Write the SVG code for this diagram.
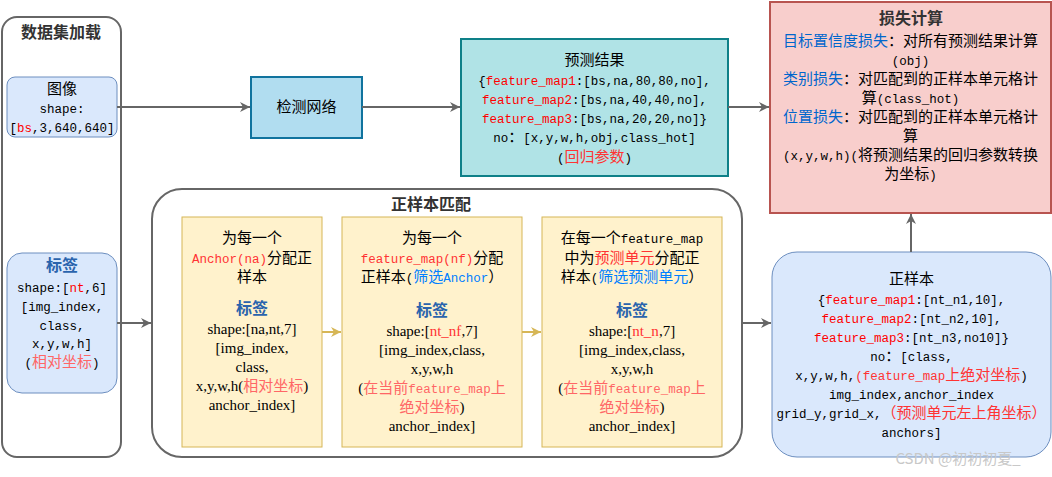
<svg xmlns="http://www.w3.org/2000/svg" width="1052" height="477" viewBox="0 0 1052 477">
<defs>
<style>
.t{font-family:"Liberation Mono","Noto Sans CJK SC",monospace;font-size:12.5px;text-anchor:middle;fill:#000}
.s{font-family:"Liberation Serif","Noto Sans CJK SC",serif;font-size:15px;text-anchor:middle;fill:#000}
.c{font-family:"Noto Sans CJK SC",sans-serif;font-size:15px}
.m{font-family:"Liberation Mono",monospace;font-size:12.5px}
.h{font-family:"Noto Sans CJK SC",sans-serif;font-size:16px;font-weight:bold;fill:#333;text-anchor:middle}
.lb{font-family:"Noto Sans CJK SC",sans-serif;font-size:16px;font-weight:bold;fill:#2a64ad;text-anchor:middle}
.r{fill:#ff0000}.r2{fill:#ff3333}.p{fill:#ff6666}.b{fill:#0066cc}.b2{fill:#007fff}
.cont{fill:#fff;stroke:#666;stroke-width:2}
.blue{fill:#dae8fc;stroke:#6c8ebf;stroke-width:1}
.yel{fill:#fff2cc;stroke:#d6b656;stroke-width:1}
.ln{fill:none;stroke:#666;stroke-width:2}
.lny{fill:none;stroke:#d6b656;stroke-width:2}
</style>
<marker id="ag" markerUnits="userSpaceOnUse" markerWidth="12" markerHeight="12" refX="10" refY="5" orient="auto"><path d="M0,0 L10,5 L0,10 L3,5 Z" fill="#666"/></marker>
<marker id="ay" markerUnits="userSpaceOnUse" markerWidth="12" markerHeight="12" refX="10" refY="5" orient="auto"><path d="M0,0 L10,5 L0,10 L3,5 Z" fill="#d6b656"/></marker>
</defs>
<rect width="1052" height="477" fill="#fff"/>

<g id="dataset">
<rect class="cont" x="2" y="17" width="119" height="440" rx="15"/>
<text class="h" x="61" y="38">数据集加载</text>
</g>

<g id="image">
<rect class="blue" x="7" y="77" width="110" height="60" rx="8"/>
<text class="t" x="62" y="94"><tspan class="c">图像</tspan></text>
<text class="t" x="62" y="113">shape:</text>
<text class="t" x="62" y="132">[<tspan class="r">bs</tspan>,3,640,640]</text>
</g>

<g id="label">
<rect class="blue" x="7" y="253" width="110" height="140" rx="15"/>
<text class="lb" x="62" y="271">标签</text>
<text class="t" x="62" y="292">shape:[<tspan class="r">nt</tspan>,6]</text>
<text class="t" x="62" y="311">[img_index,</text>
<text class="t" x="62" y="330">class,</text>
<text class="t" x="62" y="348">x,y,w,h]</text>
<text class="t" x="62" y="367">(<tspan class="c p">相对坐标</tspan>)</text>
</g>

<g id="network">
<rect x="251" y="77" width="111" height="61" fill="#b1ddf0" stroke="#10739e" stroke-width="2"/>
<text class="t" x="306.5" y="112"><tspan class="c">检测网络</tspan></text>
</g>

<g id="prediction">
<rect x="461" y="39" width="267" height="137" fill="#b0e3e6" stroke="#0e8088" stroke-width="2"/>
<text class="t" x="594.5" y="65"><tspan class="c">预测结果</tspan></text>
<text class="t" x="594.5" y="85">{<tspan class="r">feature_map1</tspan>:[bs,na,80,80,no],</text>
<text class="t" x="594.5" y="104"><tspan class="r">feature_map2</tspan>:[bs,na,40,40,no],</text>
<text class="t" x="594.5" y="123"><tspan class="r">feature_map3</tspan>:[bs,na,20,20,no]}</text>
<text class="t" x="594.5" y="142">no<tspan class="c">：</tspan>[x,y,w,h,obj,class_hot]</text>
<text class="t" x="594.5" y="162">(<tspan class="c r2">回归参数</tspan>)</text>
</g>

<g id="loss">
<rect x="770" y="2" width="281" height="211" fill="#f8cecc" stroke="#b85450" stroke-width="2"/>
<text class="h" x="911" y="24">损失计算</text>
<text class="t" x="910.5" y="46"><tspan class="c b">目标置信度损失</tspan><tspan class="c">：对所有预测结果计算</tspan></text>
<text class="t" x="910.5" y="65">(obj)</text>
<text class="t" x="910.5" y="84"><tspan class="c b">类别损失</tspan><tspan class="c">：对匹配到的正样本单元格计</tspan></text>
<text class="t" x="910.5" y="103"><tspan class="c">算</tspan>(class_hot)</text>
<text class="t" x="910.5" y="122"><tspan class="c b">位置损失</tspan><tspan class="c">：对匹配到的正样本单元格计</tspan></text>
<text class="t" x="910.5" y="141"><tspan class="c">算</tspan></text>
<text class="t" x="910.5" y="160">(x,y,w,h)(<tspan class="c">将预测结果的回归参数转换</tspan></text>
<text class="t" x="910.5" y="179"><tspan class="c">为坐标</tspan>)</text>
</g>

<g id="matching">
<rect class="cont" x="152" y="189" width="590" height="268" rx="30"/>
<text class="h" x="431" y="210">正样本匹配</text>
</g>

<g id="step1">
<rect class="yel" x="182" y="217" width="140" height="230"/>
<text class="t" x="252" y="243"><tspan class="c">为每一个</tspan></text>
<text class="t" x="252" y="263"><tspan class="r2">Anchor(na)</tspan><tspan class="c">分配正</tspan></text>
<text class="t" x="252" y="282"><tspan class="c">样本</tspan></text>
<text class="lb" x="252" y="314">标签</text>
<text class="s" x="252" y="334">shape:[na,nt,7]</text>
<text class="s" x="252" y="353">[img_index,</text>
<text class="s" x="252" y="372">class,</text>
<text class="s" x="252" y="391">x,y,w,h(<tspan class="c p">相对坐标</tspan>)</text>
<text class="s" x="252" y="410">anchor_index]</text>
</g>

<g id="step2">
<rect class="yel" x="342" y="217" width="180" height="230"/>
<text class="t" x="432" y="243"><tspan class="c">为每一个</tspan></text>
<text class="t" x="432" y="263"><tspan class="r2">feature_map(nf)</tspan><tspan class="c">分配</tspan></text>
<text class="t" x="432" y="282"><tspan class="c">正样本</tspan>(<tspan class="c b2">筛选</tspan><tspan class="b2">Anchor</tspan><tspan class="c">）</tspan></text>
<text class="lb" x="432" y="316">标签</text>
<text class="s" x="432" y="336">shape:[<tspan class="r2">nt_nf</tspan>,7]</text>
<text class="s" x="432" y="355">[img_index,class,</text>
<text class="s" x="432" y="374">x,y,w,h</text>
<text class="s" x="432" y="393">(<tspan class="c p">在当前</tspan><tspan class="m p">feature_map</tspan><tspan class="c p">上</tspan></text>
<text class="s" x="432" y="412"><tspan class="c p">绝对坐标</tspan>)</text>
<text class="s" x="432" y="431">anchor_index]</text>
</g>

<g id="step3">
<rect class="yel" x="542" y="217" width="180" height="230"/>
<text class="t" x="632" y="243"><tspan class="c">在每一个</tspan>feature_map</text>
<text class="t" x="632" y="263"><tspan class="c">中为</tspan><tspan class="c r2">预测单元</tspan><tspan class="c">分配正</tspan></text>
<text class="t" x="632" y="282"><tspan class="c">样本</tspan>(<tspan class="c b2">筛选预测单元</tspan><tspan class="c">）</tspan></text>
<text class="lb" x="632" y="316">标签</text>
<text class="s" x="632" y="336">shape:[<tspan class="r2">nt_n</tspan>,7]</text>
<text class="s" x="632" y="355">[img_index,class,</text>
<text class="s" x="632" y="374">x,y,w,h</text>
<text class="s" x="632" y="393">(<tspan class="c p">在当前</tspan><tspan class="m p">feature_map</tspan><tspan class="c p">上</tspan></text>
<text class="s" x="632" y="412"><tspan class="c p">绝对坐标</tspan>)</text>
<text class="s" x="632" y="431">anchor_index]</text>
</g>

<g id="positive">
<rect class="blue" x="772" y="252" width="279" height="205" rx="25"/>
<text class="t" x="911.5" y="284"><tspan class="c">正样本</tspan></text>
<text class="t" x="911.5" y="304">{<tspan class="r">feature_map1</tspan>:[nt_n1,10],</text>
<text class="t" x="911.5" y="323"><tspan class="r">feature_map2</tspan>:[nt_n2,10],</text>
<text class="t" x="911.5" y="342"><tspan class="r">feature_map3</tspan>:[nt_n3,no10]}</text>
<text class="t" x="911.5" y="361">no<tspan class="c">：</tspan>[class,</text>
<text class="t" x="911.5" y="380">x,y,w,h,<tspan class="r2">(feature_map</tspan><tspan class="c r2">上绝对坐标</tspan>)</text>
<text class="t" x="911.5" y="399">img_index,anchor_index</text>
<text class="t" x="911.5" y="418">grid_y,grid_x,<tspan class="c r2">（预测单元左上角坐标）</tspan></text>
<text class="t" x="911.5" y="437">anchors]</text>
</g>

<g id="connectors">
<line class="ln" x1="117" y1="107" x2="250" y2="107" marker-end="url(#ag)"/>
<line class="ln" x1="362" y1="107" x2="460" y2="107" marker-end="url(#ag)"/>
<line class="ln" x1="728" y1="107" x2="769" y2="107" marker-end="url(#ag)"/>
<line class="ln" x1="117" y1="323" x2="151" y2="323" marker-end="url(#ag)"/>
<line class="ln" x1="742" y1="323" x2="771" y2="323" marker-end="url(#ag)"/>
<line class="ln" x1="911" y1="252" x2="911" y2="214" marker-end="url(#ag)"/>
<line class="lny" x1="322" y1="332" x2="341" y2="332" marker-end="url(#ay)"/>
<line class="lny" x1="522" y1="332" x2="541" y2="332" marker-end="url(#ay)"/>
</g>

<text x="958" y="464" style="font-family:'Noto Sans CJK SC',sans-serif;font-size:15px;fill:#c8c8c8;text-anchor:middle">CSDN @初初初夏_</text>
</svg>
